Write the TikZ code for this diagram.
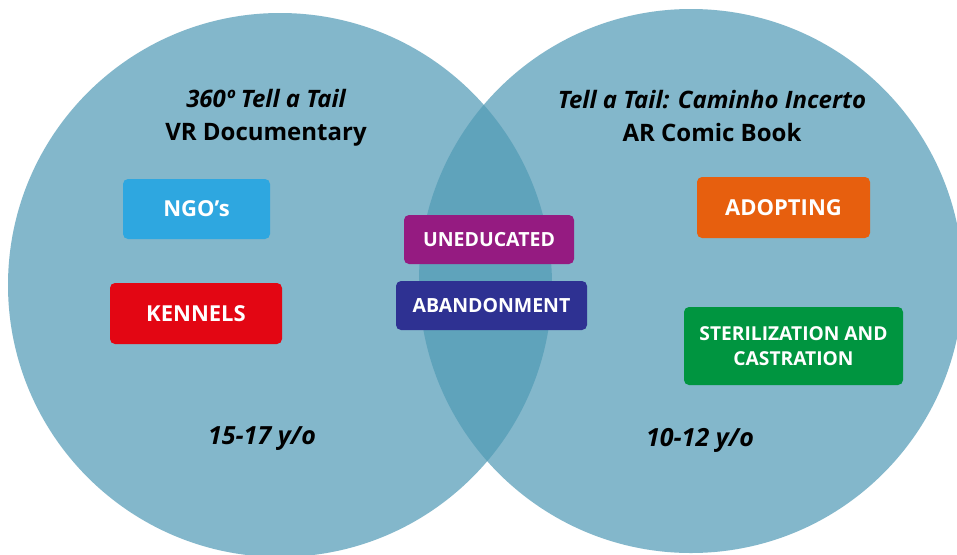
\documentclass[tikz,border=0pt]{standalone}
\usepackage{fontspec}
\setmainfont{Open Sans}
\definecolor{circblue}{HTML}{83B7CB}
\definecolor{lensblue}{HTML}{5FA3BB}
\definecolor{ngocol}{HTML}{2EA7E0}
\definecolor{kenncol}{HTML}{E30613}
\definecolor{unedcol}{HTML}{951B81}
\definecolor{abancol}{HTML}{2E3192}
\definecolor{adopcol}{HTML}{E75F0E}
\definecolor{sterilcol}{HTML}{009540}
\tikzset{
	tag/.style={rounded corners=5pt, text=white, align=center, inner sep=0pt,
		font=\fontsize{22}{24}\selectfont\bfseries},
	smalltag/.style={tag, font=\fontsize{19.5}{21}\selectfont\bfseries},
	title/.style={align=center, font=\fontsize{24}{33}\selectfont\bfseries},
	age/.style={font=\fontsize{25}{28}\selectfont\bfseries\itshape}
}
\begin{document}
\begin{tikzpicture}[x=1pt, y=-1pt]
\useasboundingbox (0,0) rectangle (957,554);
\fill[white] (0,0) rectangle (957,554);
\fill[circblue] (280,285) circle (272pt);
\fill[circblue] (691,281) circle (272pt);
\begin{scope}
	\clip (280,285) circle (272pt);
	\fill[lensblue] (691,281) circle (272pt);
\end{scope}
% titles
\node[title] (vrdoc) at (266, 118) {\itshape 360º Tell a Tail\\VR Documentary};
\node[title] (arbook) at (712, 116) {\itshape Tell a Tail: Caminho Incerto\\AR Comic Book};
% tags
\node[tag, fill=ngocol, minimum width=147, minimum height=60] (ngo) at (196.5, 209) {NGO’s};
\node[tag, fill=kenncol, minimum width=172, minimum height=61] (kennels) at (196, 313.5) {KENNELS};
\node[smalltag, fill=unedcol, minimum width=170, minimum height=49] (uneducated) at (489, 239.5) {UNEDUCATED};
\node[smalltag, fill=abancol, minimum width=191, minimum height=49] (abandon) at (491.5, 305.5) {ABANDONMENT};
\node[tag, fill=adopcol, minimum width=173, minimum height=61] (adopting) at (783.5, 207.5) {ADOPTING};
\node[tag, fill=sterilcol, minimum width=219, minimum height=78, font=\fontsize{19.2}{25}\selectfont\bfseries] (steril) at (793.5, 346) {STERILIZATION AND\\CASTRATION};
% ages
\node[age] (oldage) at (262, 439) {15-17 y/o};
\node[age] (youngage) at (700, 440) {10-12 y/o};
\end{tikzpicture}
\end{document}
